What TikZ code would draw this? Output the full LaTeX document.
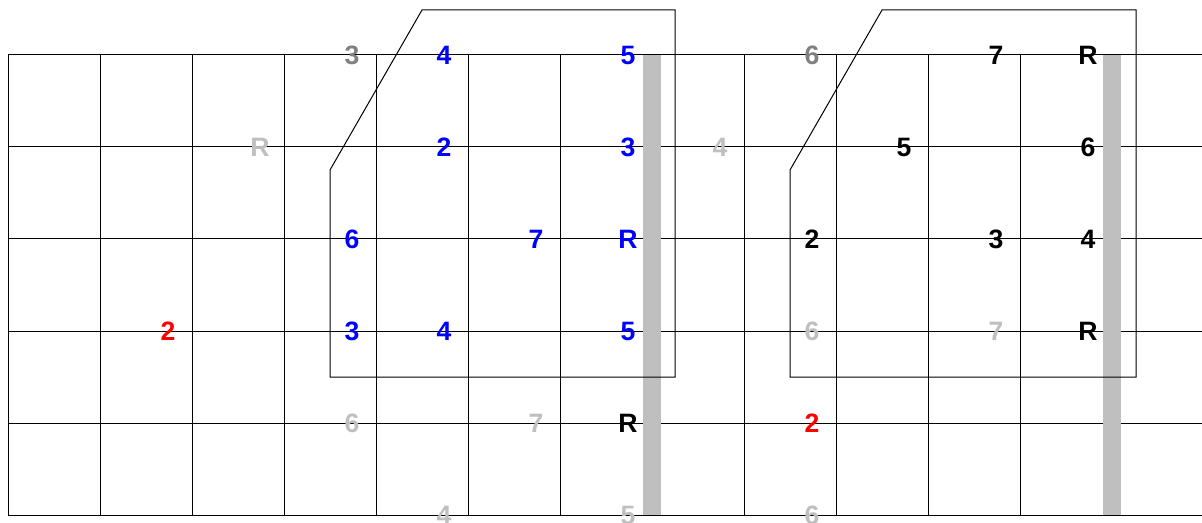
\documentclass[tikz,border=0pt]{standalone}
\usepackage{fontspec}
\setmainfont{Liberation Sans}
\usepackage{tikz}
\usetikzlibrary{positioning}
\tikzset{every picture/.style={line width=0.5pt}}

\begin{document}
\begin{tikzpicture}[x=0.5pt, y=-0.5pt,
    deg/.style={font=\fontsize{13.3}{16}\selectfont\bfseries, inner sep=0pt},
    inbox/.style={deg, blue},
    outbox/.style={deg, black},
    dimdeg/.style={deg, gray!50},
    edgedeg/.style={deg, gray},
    target/.style={deg, red}]
    \useasboundingbox (0,0) rectangle (1202,523);

    % 弦
    \foreach \s in {0,...,5}
        \draw (8,55+92*\s) -- (1202,55+92*\s);

    % 品丝
    \foreach \f in {0,...,12}
        \draw (8+92*\f,55) -- (8+92*\f,515);

    % 把位标记
    \fill[gray!50] (643,55) rectangle (661,515);
    \fill[gray!50] (1103,55) rectangle (1121,515);

    % 第一个把位框
    \draw (330,377) -- (330,170) -- (422,10) -- (675,10) -- (675,377) -- cycle;

    % 第二个把位框
    \draw (790,377) -- (790,170) -- (882,10) -- (1136,10) -- (1136,377) -- cycle;

    % 第一弦
    \node[edgedeg] (a3) at (352,55) {3};
    \node[inbox] (a4) at (444,55) {4};
    \node[inbox] (a5) at (628,55) {5};
    \node[edgedeg] (a6) at (812,55) {6};
    \node[outbox] (a7) at (996,55) {7};
    \node[outbox] (aR) at (1088,55) {R};

    % 第二弦
    \node[dimdeg] (bR) at (260,147) {R};
    \node[inbox] (b2) at (444,147) {2};
    \node[inbox] (b3) at (628,147) {3};
    \node[dimdeg] (b4) at (720,147) {4};
    \node[outbox] (b5) at (904,147) {5};
    \node[outbox] (b6) at (1088,147) {6};

    % 第三弦
    \node[inbox] (c6) at (352,239) {6};
    \node[inbox] (c7) at (536,239) {7};
    \node[inbox] (cR) at (628,239) {R};
    \node[outbox] (c2) at (812,239) {2};
    \node[outbox] (c3) at (996,239) {3};
    \node[outbox] (c4) at (1088,239) {4};

    % 第四弦
    \node[target] (d2) at (168,331) {2};
    \node[inbox] (d3) at (352,331) {3};
    \node[inbox] (d4) at (444,331) {4};
    \node[inbox] (d5) at (628,331) {5};
    \node[dimdeg] (d6) at (812,331) {6};
    \node[dimdeg] (d7) at (996,331) {7};
    \node[outbox] (dR) at (1088,331) {R};

    % 第五弦
    \node[dimdeg] (e6) at (352,423) {6};
    \node[dimdeg] (e7) at (536,423) {7};
    \node[outbox] (eR) at (628,423) {R};
    \node[target] (e2) at (812,423) {2};

    % 第六弦
    \node[dimdeg] (f4) at (444,515) {4};
    \node[dimdeg] (f5) at (628,515) {5};
    \node[dimdeg] (f6) at (812,515) {6};
\end{tikzpicture}
\end{document}
